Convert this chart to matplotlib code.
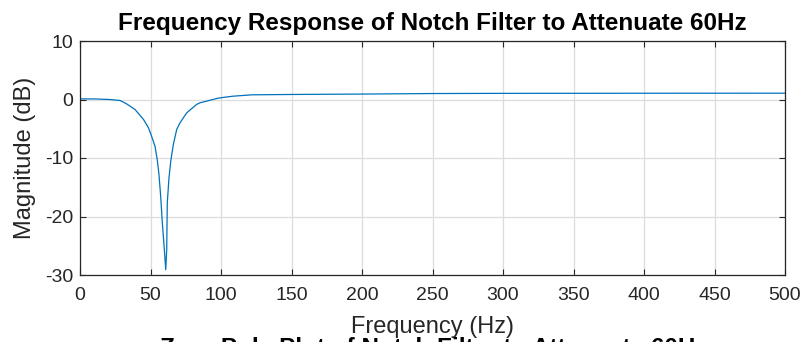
import matplotlib
matplotlib.use("Agg")
import matplotlib.pyplot as plt

plt.rcParams['font.family'] = ['Liberation Sans', 'DejaVu Sans']
plt.rcParams['axes.unicode_minus'] = False

# Data
freq_hz = [0, 10, 21, 28.4, 33, 39, 45, 48.5, 50.8, 53.2, 54.8, 56, 57.2, 58.4,
           59.8, 60.8, 61.5, 61.9, 63.1, 64.5, 66.2, 68.6, 70.9, 75.6, 78, 82.7,
           85, 89.8, 97, 99.3, 105, 108.7, 122, 150, 200, 250, 300, 400, 500]
mag_db = [0.1, 0.1, 0.0, -0.17, -0.74, -1.7, -3.4, -4.8, -6.3, -8.0, -10.3, -12.8,
          -16.5, -21.1, -25.6, -29.1, -25.6, -17.7, -13.4, -10.3, -7.7, -5.1, -4.0,
          -2.3, -1.8, -0.85, -0.57, -0.28, 0.17, 0.28, 0.46, 0.57, 0.8, 0.86,
          0.93, 1.02, 1.05, 1.07, 1.08]

x_ticks = [0, 50, 100, 150, 200, 250, 300, 350, 400, 450, 500]
y_ticks = [-30, -20, -10, 0, 10]

title_top = "Frequency Response of Notch Filter to Attenuate 60Hz"
title_bottom = "Zero-Pole Plot of Notch Filter to Attenuate 60Hz"

W, H = 807, 342
fig = plt.figure(figsize=(W / 100, H / 100), dpi=100)
ax = fig.add_axes([80 / W, 1 - 275 / H, (785 - 80) / W, (275 - 41) / H])

ax.plot(freq_hz, mag_db, color='#0072BD', linewidth=0.9)
ax.set_xlim(0, 500)
ax.set_ylim(-30, 10)
ax.set_xticks(x_ticks)
ax.set_yticks(y_ticks)
ax.grid(True, color='#dcdcdc', linewidth=0.9)
ax.set_axisbelow(True)
for s in ax.spines.values():
    s.set_color('#262626')
    s.set_linewidth(0.9)
ax.tick_params(direction='in', top=True, right=True, length=4, width=0.8,
               colors='#262626', labelsize=14, labelcolor='#262626')
ax.tick_params(axis='x', pad=8.5)
ax.tick_params(axis='y', pad=5)
ax.set_xlabel('Frequency (Hz)', fontsize=17, color='#262626', labelpad=9)
ax.set_ylabel('Magnitude (dB)', fontsize=17, color='#262626', labelpad=6.5)
ax.set_title(title_top, fontsize=17.5, fontweight='bold', color='black', pad=8)

fig.text(434 / W, -13 / H, title_bottom, fontsize=17.5, fontweight='bold',
         color='black', ha='center', va='baseline')

fig.savefig('out.png', dpi=100)
